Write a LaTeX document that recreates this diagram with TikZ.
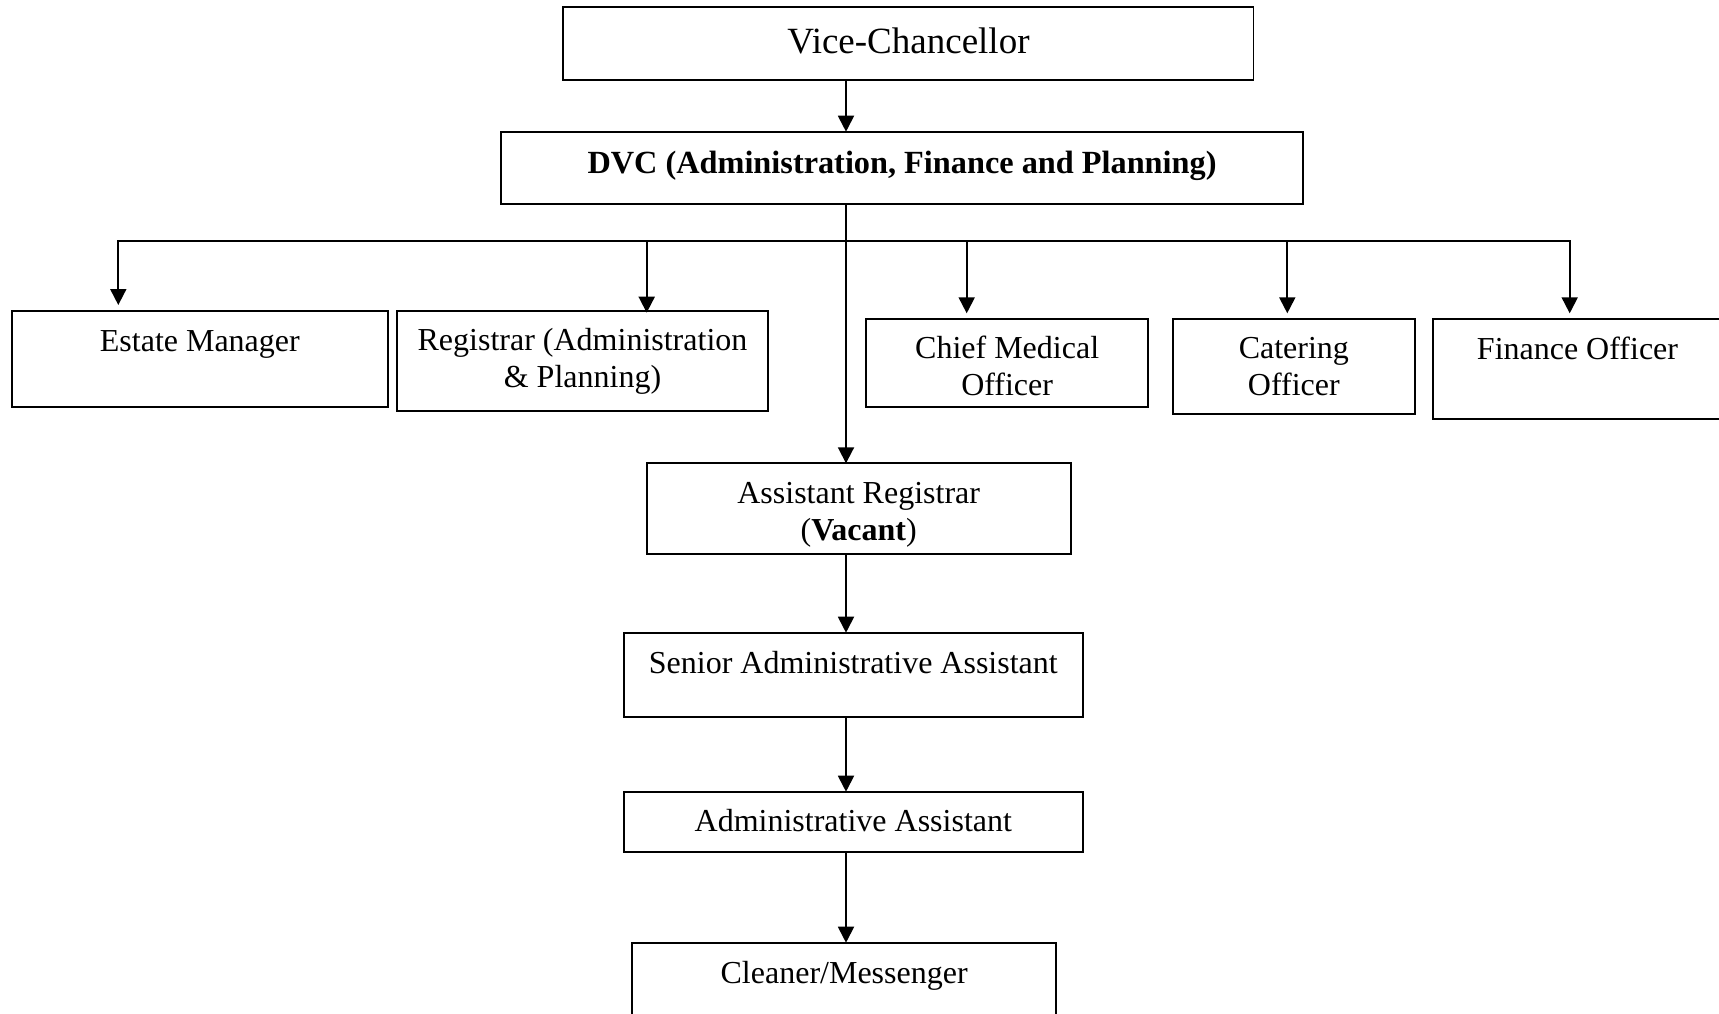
\documentclass[tikz,border=0pt]{standalone}
\usepackage{fontspec}
\setmainfont{Liberation Serif}
\usetikzlibrary{arrows.meta,calc}
\begin{document}
\begin{tikzpicture}[x=1pt,y=1pt,
  box/.style={draw=black, line width=1.9pt, rectangle, inner sep=0pt, outer sep=0pt},
  txt/.style={anchor=base, inner sep=0pt, align=flush center, font=\fontsize{32}{37.4}\selectfont},
  conn/.style={draw=black, line width=1.9pt, line join=miter},
  arr/.style={conn, -{Triangle[length=16pt,width=16pt]}}]
\useasboundingbox (0,0) rectangle (1719,-1013);
\fill[white] (0,0) rectangle (1719,-1013);
\clip (0,0) rectangle (1719,-1013);

% boxes
\node[box, minimum width=690.1pt, minimum height=73pt]   (vc)  at (908.4,-43.8) {};
\node[box, minimum width=802.5pt, minimum height=72.3pt] (dvc) at (902.05,-167.85) {};
\node[box, minimum width=375.7pt, minimum height=96pt]   (est) at (199.85,-358.7) {};
\node[box, minimum width=371.6pt, minimum height=100.3pt] (reg) at (582.5,-360.85) {};
\node[box, minimum width=282.3pt, minimum height=87.4pt] (cmo) at (1007.15,-363) {};
\node[box, minimum width=242.3pt, minimum height=95pt]   (cat) at (1293.85,-366.8) {};
\node[box, minimum width=289pt,   minimum height=100pt]  (fin) at (1577.5,-369.3) {};
\node[box, minimum width=424pt,   minimum height=90.4pt] (asr) at (858.7,-508.5) {};
\node[box, minimum width=459.3pt, minimum height=84pt]   (sen) at (853.35,-674.7) {};
\node[box, minimum width=459.3pt, minimum height=60pt]   (adm) at (853.35,-821.7) {};
\node[box, minimum width=423.7pt, minimum height=97.3pt] (cln) at (844.15,-991.35) {};

% texts
\node[txt, text width=680pt, font=\fontsize{37}{42}\selectfont] (vct) at (908.4,-53.3) {Vice-Chancellor};
\node[txt, text width=790pt, font=\fontsize{32.3}{37}\selectfont] (dvct) at (902.05,-173.3) {\textbf{DVC (Administration, Finance and Planning)}};
\node[txt, text width=360pt] (estt) at (199.85,-351) {Estate Manager};
\node[txt, text width=360pt] (regt) at (582.5,-350) {Registrar (Administration\\ \& Planning)};
\node[txt, text width=270pt] (cmot) at (1007.15,-358.3) {Chief Medical\\ Officer};
\node[txt, text width=230pt] (catt) at (1293.85,-358.5) {Catering\\ Officer};
\node[txt, text width=280pt] (fint) at (1577.5,-359.3) {Finance Officer};
\node[txt, text width=410pt] (asrt) at (858.7,-503.3) {Assistant Registrar\\ (\textbf{Vacant})};
\node[txt, text width=450pt] (sent) at (853.35,-673.3) {Senior Administrative Assistant};
\node[txt, text width=450pt] (admt) at (853.35,-831.7) {Administrative Assistant};
\node[txt, text width=410pt] (clnt) at (844.15,-983.3) {Cleaner/Messenger};

% connector coordinates
\coordinate (spine) at (846,0);
\coordinate (b1) at (118.3,-240.7);
\coordinate (b2) at (646.7,-240.7);
\coordinate (b3) at (966.7,-240.7);
\coordinate (b4) at (1287.3,-240.7);
\coordinate (b5) at (1569.7,-240.7);

% connectors
\draw[arr] (vc.south -| spine) -- (dvc.north -| spine);
\draw[arr] (dvc.south -| spine) -- (asr.north -| spine);
\draw[arr, shorten >=5.7pt] (spine |- b1) -- (b1) -- (b1 |- est.north);
\draw[arr, shorten >=6pt] (spine |- b5) -- (b5) -- (b5 |- fin.north);
\draw[arr, shorten >=-2pt] (b2) -- (b2 |- reg.north);
\draw[arr, shorten >=6pt] (b3) -- (b3 |- cmo.north);
\draw[arr, shorten >=6pt] (b4) -- (b4 |- cat.north);
\draw[arr] (asr.south -| spine) -- (sen.north -| spine);
\draw[arr] (sen.south -| spine) -- (adm.north -| spine);
\draw[arr] (adm.south -| spine) -- (cln.north -| spine);
\end{tikzpicture}
\end{document}
